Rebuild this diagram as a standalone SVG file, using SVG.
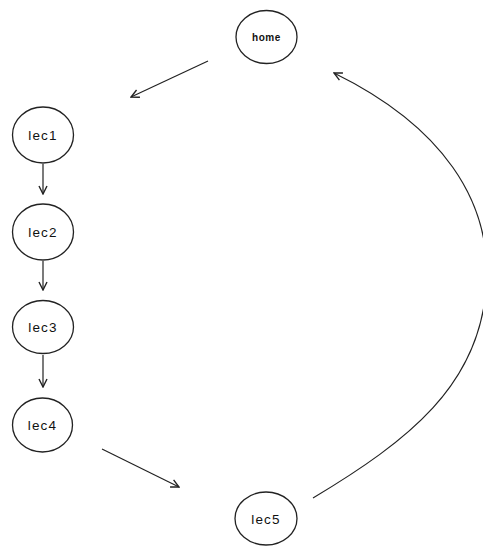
<svg xmlns="http://www.w3.org/2000/svg" width="483" height="550" viewBox="0 0 483 550">
  <style>
    .node ellipse { fill: #ffffff; stroke: #222222; stroke-width: 1.3; }
    .node text { font-family: "Liberation Sans", Arial, sans-serif; font-size: 13.5px; fill: #111111; text-anchor: middle; letter-spacing: 1.2px; }
    .node text.small { font-size: 10px; font-weight: bold; letter-spacing: 0.6px; }
    .edges path { fill: none; stroke: #222222; stroke-width: 1.2; marker-end: url(#arrow); }
  </style>
  <defs>
    <marker id="arrow" viewBox="0 0 10 10" refX="9" refY="5" markerWidth="10" markerHeight="10" markerUnits="userSpaceOnUse" orient="auto">
      <path d="M1,1 L9,5 L1,9" fill="none" stroke="#222222" stroke-width="1.4"/>
    </marker>
  </defs>
  <rect width="483" height="550" fill="#ffffff"/>

  <g class="edges" id="edges">
    <path d="M208,61 L131,97"/>
    <path d="M43,164 L43,194"/>
    <path d="M43,261 L43,290"/>
    <path d="M43,355 L43,387"/>
    <path d="M102,449 L179,487"/>
    <path d="M313,498 C410,440 478,385 486,290 C494,200 440,125 334,73"/>
  </g>

  <g class="node" id="home">
    <ellipse cx="266.5" cy="37" rx="30.5" ry="26.5"/>
    <text class="small" x="266.5" y="40.5">home</text>
  </g>
  <g class="node" id="lec1">
    <ellipse cx="43" cy="135" rx="30.5" ry="28"/>
    <text x="43" y="140">lec1</text>
  </g>
  <g class="node" id="lec2">
    <ellipse cx="43" cy="232" rx="30.5" ry="28"/>
    <text x="43" y="237">lec2</text>
  </g>
  <g class="node" id="lec3">
    <ellipse cx="43" cy="327" rx="30.5" ry="26.5"/>
    <text x="43" y="332">lec3</text>
  </g>
  <g class="node" id="lec4">
    <ellipse cx="42.5" cy="425" rx="30" ry="27"/>
    <text x="42.5" y="430">lec4</text>
  </g>
  <g class="node" id="lec5">
    <ellipse cx="266" cy="518.5" rx="31" ry="26.5"/>
    <text x="266" y="523.5">lec5</text>
  </g>
</svg>
